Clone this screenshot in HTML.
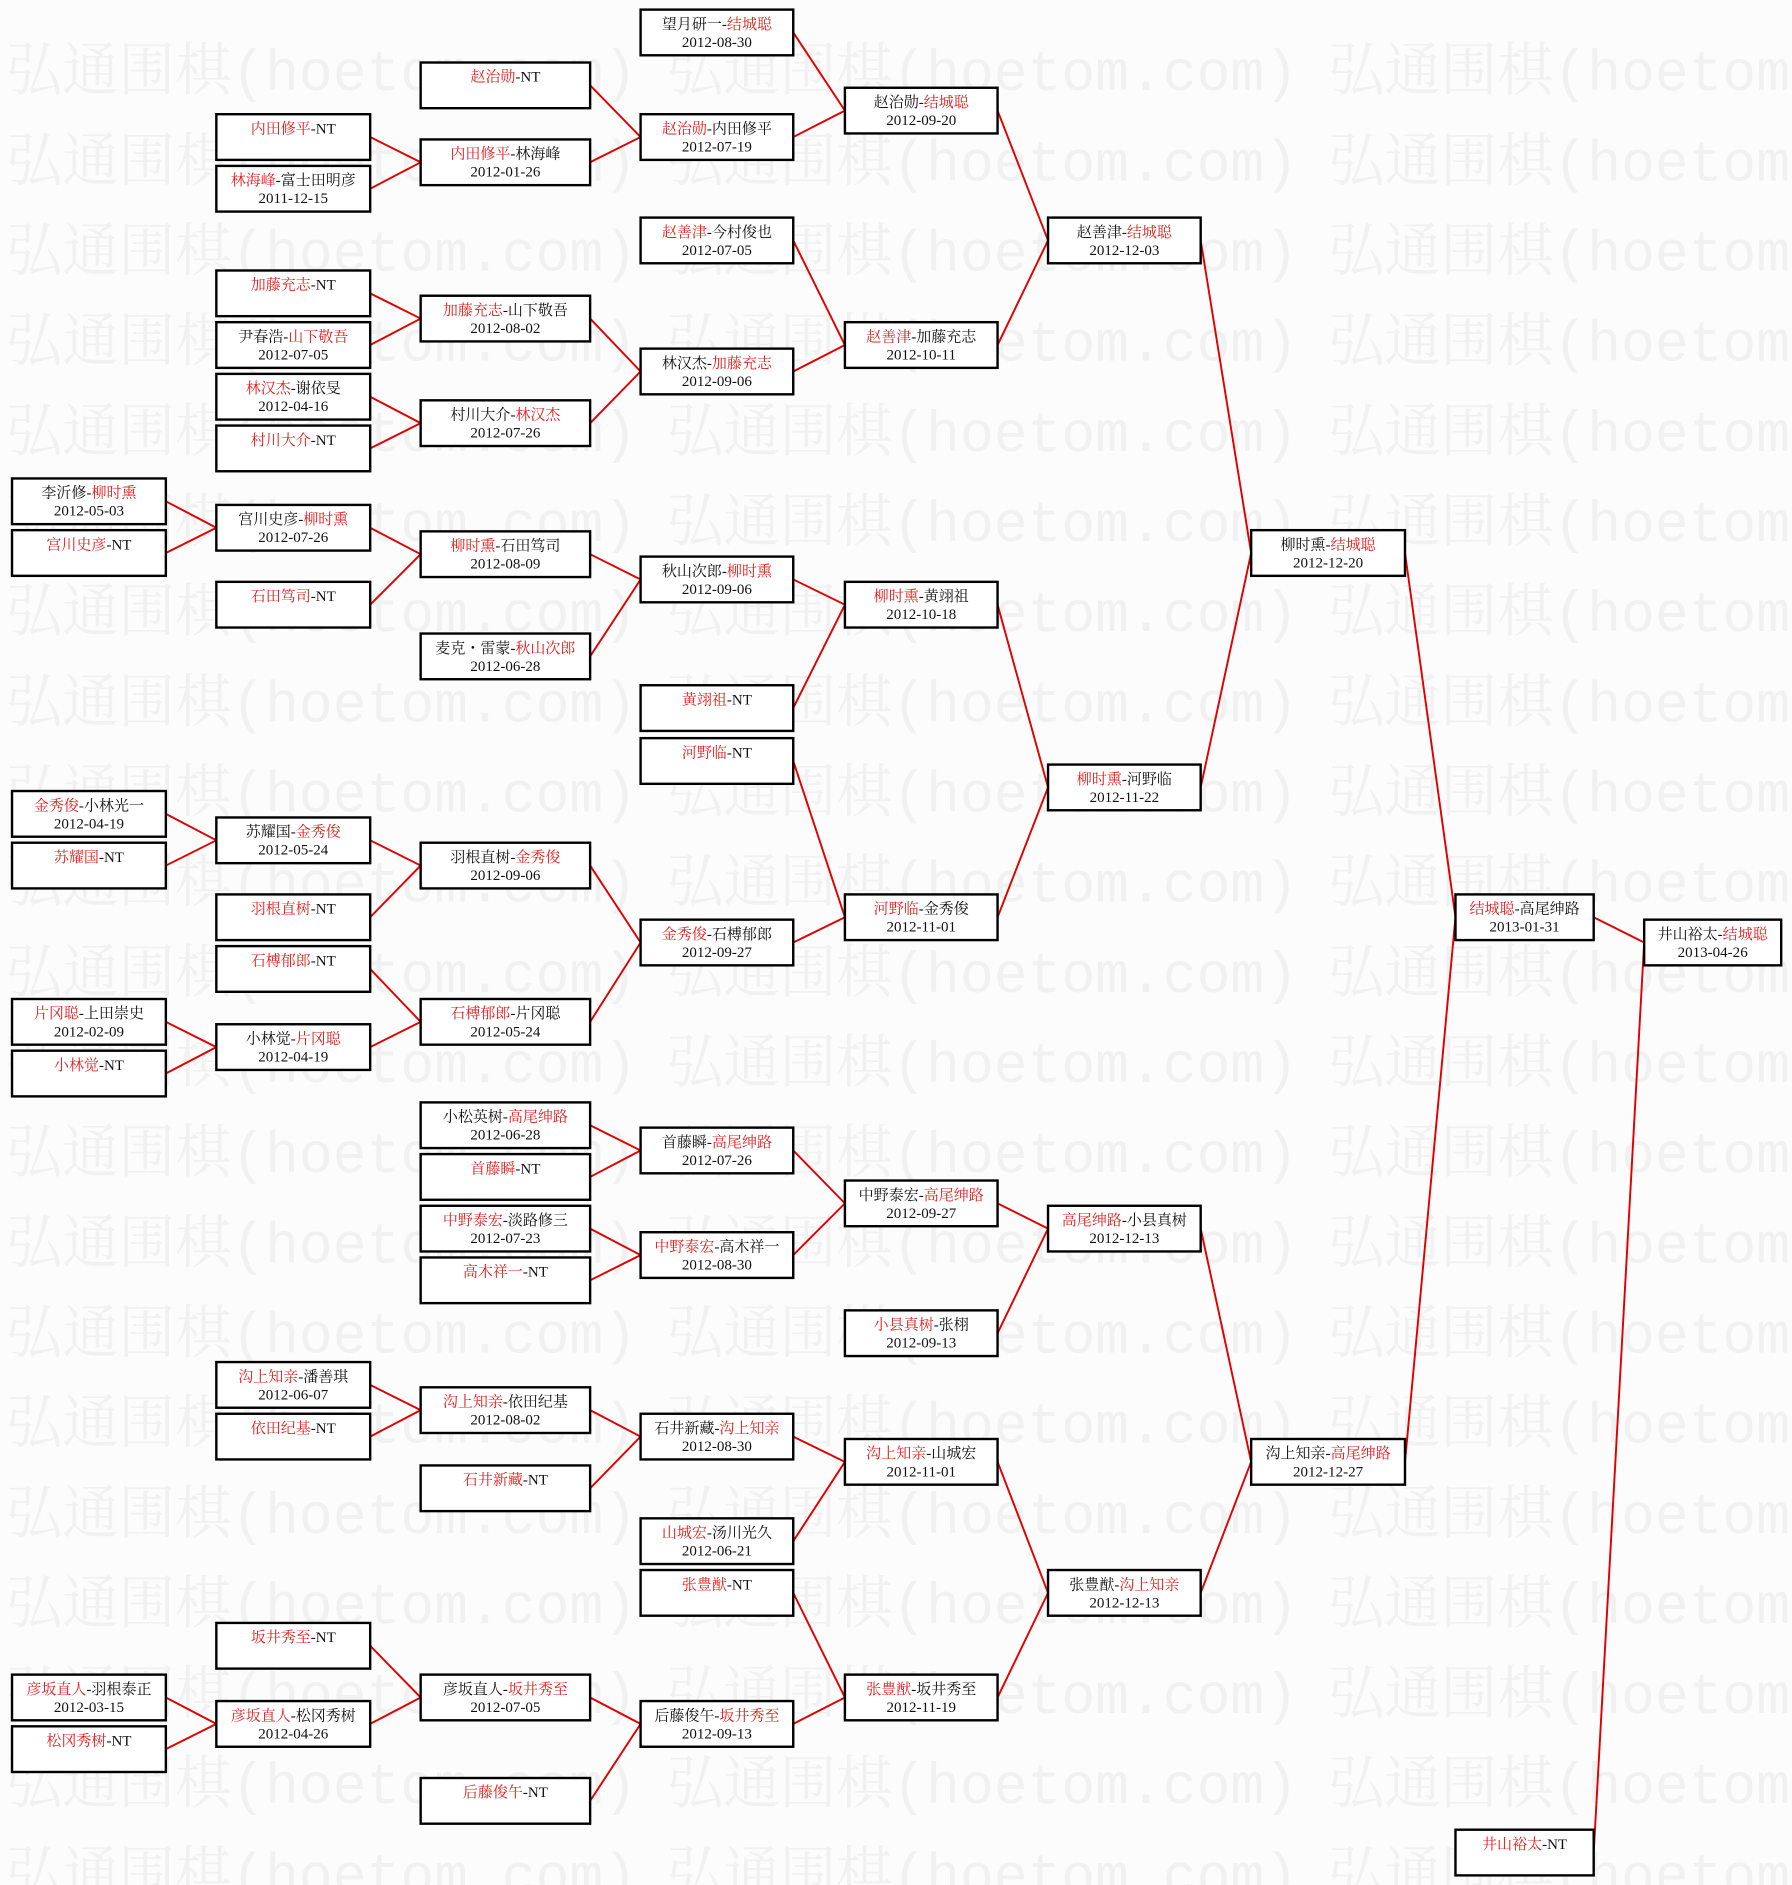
<!DOCTYPE html>
<html><head><meta charset="utf-8"><style>
html,body{margin:0;padding:0;background:#fcfcfc;}
svg{display:block}
.w{font-family:"Liberation Mono","Noto Serif CJK SC",monospace;font-size:48px;fill:#f1f1f1}
.b rect{fill:#fff;stroke:#000;stroke-width:2}
.t{font-family:"Liberation Serif","Noto Serif CJK SC",serif;font-size:12.5px;fill:#111;text-anchor:middle}
.r{fill:#e02020}
line{stroke:#e00000;stroke-width:1.6}
</style></head><body>
<svg width="1792" height="1885" viewBox="0 0 1491 1568" preserveAspectRatio="none" xmlns="http://www.w3.org/2000/svg">
<defs></defs>
<g class="w">
<text x="5" y="75" textLength="525" lengthAdjust="spacingAndGlyphs">弘通围棋(hoetom.com)</text><text x="555" y="75" textLength="525" lengthAdjust="spacingAndGlyphs">弘通围棋(hoetom.com)</text><text x="1105" y="75" textLength="525" lengthAdjust="spacingAndGlyphs">弘通围棋(hoetom.com)</text>
<text x="5" y="150" textLength="525" lengthAdjust="spacingAndGlyphs">弘通围棋(hoetom.com)</text><text x="555" y="150" textLength="525" lengthAdjust="spacingAndGlyphs">弘通围棋(hoetom.com)</text><text x="1105" y="150" textLength="525" lengthAdjust="spacingAndGlyphs">弘通围棋(hoetom.com)</text>
<text x="5" y="225" textLength="525" lengthAdjust="spacingAndGlyphs">弘通围棋(hoetom.com)</text><text x="555" y="225" textLength="525" lengthAdjust="spacingAndGlyphs">弘通围棋(hoetom.com)</text><text x="1105" y="225" textLength="525" lengthAdjust="spacingAndGlyphs">弘通围棋(hoetom.com)</text>
<text x="5" y="300" textLength="525" lengthAdjust="spacingAndGlyphs">弘通围棋(hoetom.com)</text><text x="555" y="300" textLength="525" lengthAdjust="spacingAndGlyphs">弘通围棋(hoetom.com)</text><text x="1105" y="300" textLength="525" lengthAdjust="spacingAndGlyphs">弘通围棋(hoetom.com)</text>
<text x="5" y="375" textLength="525" lengthAdjust="spacingAndGlyphs">弘通围棋(hoetom.com)</text><text x="555" y="375" textLength="525" lengthAdjust="spacingAndGlyphs">弘通围棋(hoetom.com)</text><text x="1105" y="375" textLength="525" lengthAdjust="spacingAndGlyphs">弘通围棋(hoetom.com)</text>
<text x="5" y="450" textLength="525" lengthAdjust="spacingAndGlyphs">弘通围棋(hoetom.com)</text><text x="555" y="450" textLength="525" lengthAdjust="spacingAndGlyphs">弘通围棋(hoetom.com)</text><text x="1105" y="450" textLength="525" lengthAdjust="spacingAndGlyphs">弘通围棋(hoetom.com)</text>
<text x="5" y="525" textLength="525" lengthAdjust="spacingAndGlyphs">弘通围棋(hoetom.com)</text><text x="555" y="525" textLength="525" lengthAdjust="spacingAndGlyphs">弘通围棋(hoetom.com)</text><text x="1105" y="525" textLength="525" lengthAdjust="spacingAndGlyphs">弘通围棋(hoetom.com)</text>
<text x="5" y="600" textLength="525" lengthAdjust="spacingAndGlyphs">弘通围棋(hoetom.com)</text><text x="555" y="600" textLength="525" lengthAdjust="spacingAndGlyphs">弘通围棋(hoetom.com)</text><text x="1105" y="600" textLength="525" lengthAdjust="spacingAndGlyphs">弘通围棋(hoetom.com)</text>
<text x="5" y="675" textLength="525" lengthAdjust="spacingAndGlyphs">弘通围棋(hoetom.com)</text><text x="555" y="675" textLength="525" lengthAdjust="spacingAndGlyphs">弘通围棋(hoetom.com)</text><text x="1105" y="675" textLength="525" lengthAdjust="spacingAndGlyphs">弘通围棋(hoetom.com)</text>
<text x="5" y="750" textLength="525" lengthAdjust="spacingAndGlyphs">弘通围棋(hoetom.com)</text><text x="555" y="750" textLength="525" lengthAdjust="spacingAndGlyphs">弘通围棋(hoetom.com)</text><text x="1105" y="750" textLength="525" lengthAdjust="spacingAndGlyphs">弘通围棋(hoetom.com)</text>
<text x="5" y="825" textLength="525" lengthAdjust="spacingAndGlyphs">弘通围棋(hoetom.com)</text><text x="555" y="825" textLength="525" lengthAdjust="spacingAndGlyphs">弘通围棋(hoetom.com)</text><text x="1105" y="825" textLength="525" lengthAdjust="spacingAndGlyphs">弘通围棋(hoetom.com)</text>
<text x="5" y="900" textLength="525" lengthAdjust="spacingAndGlyphs">弘通围棋(hoetom.com)</text><text x="555" y="900" textLength="525" lengthAdjust="spacingAndGlyphs">弘通围棋(hoetom.com)</text><text x="1105" y="900" textLength="525" lengthAdjust="spacingAndGlyphs">弘通围棋(hoetom.com)</text>
<text x="5" y="975" textLength="525" lengthAdjust="spacingAndGlyphs">弘通围棋(hoetom.com)</text><text x="555" y="975" textLength="525" lengthAdjust="spacingAndGlyphs">弘通围棋(hoetom.com)</text><text x="1105" y="975" textLength="525" lengthAdjust="spacingAndGlyphs">弘通围棋(hoetom.com)</text>
<text x="5" y="1050" textLength="525" lengthAdjust="spacingAndGlyphs">弘通围棋(hoetom.com)</text><text x="555" y="1050" textLength="525" lengthAdjust="spacingAndGlyphs">弘通围棋(hoetom.com)</text><text x="1105" y="1050" textLength="525" lengthAdjust="spacingAndGlyphs">弘通围棋(hoetom.com)</text>
<text x="5" y="1125" textLength="525" lengthAdjust="spacingAndGlyphs">弘通围棋(hoetom.com)</text><text x="555" y="1125" textLength="525" lengthAdjust="spacingAndGlyphs">弘通围棋(hoetom.com)</text><text x="1105" y="1125" textLength="525" lengthAdjust="spacingAndGlyphs">弘通围棋(hoetom.com)</text>
<text x="5" y="1200" textLength="525" lengthAdjust="spacingAndGlyphs">弘通围棋(hoetom.com)</text><text x="555" y="1200" textLength="525" lengthAdjust="spacingAndGlyphs">弘通围棋(hoetom.com)</text><text x="1105" y="1200" textLength="525" lengthAdjust="spacingAndGlyphs">弘通围棋(hoetom.com)</text>
<text x="5" y="1275" textLength="525" lengthAdjust="spacingAndGlyphs">弘通围棋(hoetom.com)</text><text x="555" y="1275" textLength="525" lengthAdjust="spacingAndGlyphs">弘通围棋(hoetom.com)</text><text x="1105" y="1275" textLength="525" lengthAdjust="spacingAndGlyphs">弘通围棋(hoetom.com)</text>
<text x="5" y="1350" textLength="525" lengthAdjust="spacingAndGlyphs">弘通围棋(hoetom.com)</text><text x="555" y="1350" textLength="525" lengthAdjust="spacingAndGlyphs">弘通围棋(hoetom.com)</text><text x="1105" y="1350" textLength="525" lengthAdjust="spacingAndGlyphs">弘通围棋(hoetom.com)</text>
<text x="5" y="1425" textLength="525" lengthAdjust="spacingAndGlyphs">弘通围棋(hoetom.com)</text><text x="555" y="1425" textLength="525" lengthAdjust="spacingAndGlyphs">弘通围棋(hoetom.com)</text><text x="1105" y="1425" textLength="525" lengthAdjust="spacingAndGlyphs">弘通围棋(hoetom.com)</text>
<text x="5" y="1500" textLength="525" lengthAdjust="spacingAndGlyphs">弘通围棋(hoetom.com)</text><text x="555" y="1500" textLength="525" lengthAdjust="spacingAndGlyphs">弘通围棋(hoetom.com)</text><text x="1105" y="1500" textLength="525" lengthAdjust="spacingAndGlyphs">弘通围棋(hoetom.com)</text>
<text x="5" y="1575" textLength="525" lengthAdjust="spacingAndGlyphs">弘通围棋(hoetom.com)</text><text x="555" y="1575" textLength="525" lengthAdjust="spacingAndGlyphs">弘通围棋(hoetom.com)</text><text x="1105" y="1575" textLength="525" lengthAdjust="spacingAndGlyphs">弘通围棋(hoetom.com)</text>
</g>
<g>
<line x1="138" y1="417" x2="180" y2="439"/><line x1="138" y1="460" x2="180" y2="439"/>
<line x1="138" y1="677" x2="180" y2="699"/><line x1="138" y1="720" x2="180" y2="699"/>
<line x1="138" y1="850" x2="180" y2="871"/><line x1="138" y1="893" x2="180" y2="871"/>
<line x1="138" y1="1412" x2="180" y2="1434"/><line x1="138" y1="1455" x2="180" y2="1434"/>
<line x1="308" y1="114" x2="350" y2="135"/><line x1="308" y1="157" x2="350" y2="135"/>
<line x1="308" y1="244" x2="350" y2="265"/><line x1="308" y1="287" x2="350" y2="265"/>
<line x1="308" y1="330" x2="350" y2="352"/><line x1="308" y1="373" x2="350" y2="352"/>
<line x1="308" y1="439" x2="350" y2="461"/><line x1="308" y1="503" x2="350" y2="461"/>
<line x1="308" y1="699" x2="350" y2="720"/><line x1="308" y1="763" x2="350" y2="720"/>
<line x1="308" y1="806" x2="350" y2="850"/><line x1="308" y1="871" x2="350" y2="850"/>
<line x1="308" y1="1152" x2="350" y2="1173"/><line x1="308" y1="1195" x2="350" y2="1173"/>
<line x1="308" y1="1369" x2="350" y2="1412"/><line x1="308" y1="1434" x2="350" y2="1412"/>
<line x1="491" y1="71" x2="533" y2="114"/><line x1="491" y1="135" x2="533" y2="114"/>
<line x1="491" y1="265" x2="533" y2="309"/><line x1="491" y1="352" x2="533" y2="309"/>
<line x1="491" y1="461" x2="533" y2="482"/><line x1="491" y1="546" x2="533" y2="482"/>
<line x1="491" y1="720" x2="533" y2="784"/><line x1="491" y1="850" x2="533" y2="784"/>
<line x1="491" y1="936" x2="533" y2="957"/><line x1="491" y1="979" x2="533" y2="957"/>
<line x1="491" y1="1022" x2="533" y2="1044"/><line x1="491" y1="1065" x2="533" y2="1044"/>
<line x1="491" y1="1173" x2="533" y2="1195"/><line x1="491" y1="1238" x2="533" y2="1195"/>
<line x1="491" y1="1412" x2="533" y2="1434"/><line x1="491" y1="1498" x2="533" y2="1434"/>
<line x1="660" y1="27" x2="703" y2="92"/><line x1="660" y1="114" x2="703" y2="92"/>
<line x1="660" y1="200" x2="703" y2="287"/><line x1="660" y1="309" x2="703" y2="287"/>
<line x1="660" y1="482" x2="703" y2="503"/><line x1="660" y1="589" x2="703" y2="503"/>
<line x1="660" y1="633" x2="703" y2="763"/><line x1="660" y1="784" x2="703" y2="763"/>
<line x1="660" y1="957" x2="703" y2="1001"/><line x1="660" y1="1044" x2="703" y2="1001"/>
<line x1="660" y1="1195" x2="703" y2="1216"/><line x1="660" y1="1282" x2="703" y2="1216"/>
<line x1="660" y1="1325" x2="703" y2="1412"/><line x1="660" y1="1434" x2="703" y2="1412"/>
<line x1="830" y1="92" x2="872" y2="200"/><line x1="830" y1="287" x2="872" y2="200"/>
<line x1="830" y1="503" x2="872" y2="655"/><line x1="830" y1="763" x2="872" y2="655"/>
<line x1="830" y1="1001" x2="872" y2="1022"/><line x1="830" y1="1109" x2="872" y2="1022"/>
<line x1="830" y1="1216" x2="872" y2="1325"/><line x1="830" y1="1412" x2="872" y2="1325"/>
<line x1="999" y1="200" x2="1041" y2="460"/><line x1="999" y1="655" x2="1041" y2="460"/>
<line x1="999" y1="1022" x2="1041" y2="1216"/><line x1="999" y1="1325" x2="1041" y2="1216"/>
<line x1="1169" y1="460" x2="1211" y2="763"/><line x1="1169" y1="1216" x2="1211" y2="763"/>
<line x1="1326" y1="763" x2="1368" y2="784"/><line x1="1326" y1="1541" x2="1368" y2="784"/>
</g>
<g class="b">
<rect x="10" y="398" width="128" height="38"/><rect x="10" y="441" width="128" height="38"/>
<rect x="10" y="658" width="128" height="38"/><rect x="10" y="701" width="128" height="38"/>
<rect x="10" y="831" width="128" height="38"/><rect x="10" y="874" width="128" height="38"/>
<rect x="10" y="1393" width="128" height="38"/><rect x="10" y="1436" width="128" height="38"/>
<rect x="180" y="95" width="128" height="38"/><rect x="180" y="138" width="128" height="38"/>
<rect x="180" y="225" width="128" height="38"/><rect x="180" y="268" width="128" height="38"/>
<rect x="180" y="311" width="128" height="38"/><rect x="180" y="354" width="128" height="38"/>
<rect x="180" y="420" width="128" height="38"/><rect x="180" y="484" width="128" height="38"/>
<rect x="180" y="680" width="128" height="38"/><rect x="180" y="744" width="128" height="38"/>
<rect x="180" y="787" width="128" height="38"/><rect x="180" y="852" width="128" height="38"/>
<rect x="180" y="1133" width="128" height="38"/><rect x="180" y="1176" width="128" height="38"/>
<rect x="180" y="1350" width="128" height="38"/><rect x="180" y="1415" width="128" height="38"/>
<rect x="350" y="52" width="141" height="38"/><rect x="350" y="116" width="141" height="38"/>
<rect x="350" y="246" width="141" height="38"/><rect x="350" y="333" width="141" height="38"/>
<rect x="350" y="442" width="141" height="38"/><rect x="350" y="527" width="141" height="38"/>
<rect x="350" y="701" width="141" height="38"/><rect x="350" y="831" width="141" height="38"/>
<rect x="350" y="917" width="141" height="38"/><rect x="350" y="960" width="141" height="38"/>
<rect x="350" y="1003" width="141" height="38"/><rect x="350" y="1046" width="141" height="38"/>
<rect x="350" y="1154" width="141" height="38"/><rect x="350" y="1219" width="141" height="38"/>
<rect x="350" y="1393" width="141" height="38"/><rect x="350" y="1479" width="141" height="38"/>
<rect x="533" y="8" width="127" height="38"/><rect x="533" y="95" width="127" height="38"/>
<rect x="533" y="181" width="127" height="38"/><rect x="533" y="290" width="127" height="38"/>
<rect x="533" y="463" width="127" height="38"/><rect x="533" y="570" width="127" height="38"/>
<rect x="533" y="614" width="127" height="38"/><rect x="533" y="765" width="127" height="38"/>
<rect x="533" y="938" width="127" height="38"/><rect x="533" y="1025" width="127" height="38"/>
<rect x="533" y="1176" width="127" height="38"/><rect x="533" y="1263" width="127" height="38"/>
<rect x="533" y="1306" width="127" height="38"/><rect x="533" y="1415" width="127" height="38"/>
<rect x="703" y="73" width="127" height="38"/><rect x="703" y="268" width="127" height="38"/>
<rect x="703" y="484" width="127" height="38"/><rect x="703" y="744" width="127" height="38"/>
<rect x="703" y="982" width="127" height="38"/><rect x="703" y="1090" width="127" height="38"/>
<rect x="703" y="1197" width="127" height="38"/><rect x="703" y="1393" width="127" height="38"/>
<rect x="872" y="181" width="127" height="38"/><rect x="872" y="636" width="127" height="38"/>
<rect x="872" y="1003" width="127" height="38"/><rect x="872" y="1306" width="127" height="38"/>
<rect x="1041" y="441" width="128" height="38"/><rect x="1041" y="1197" width="128" height="38"/>
<rect x="1211" y="744" width="115" height="38"/><rect x="1211" y="1522" width="115" height="38"/>
<rect x="1368" y="765" width="114" height="38"/>
</g>
<g class="t">
<text x="74" y="414">李沂修-<tspan class="r">柳时熏</tspan></text><text x="74" y="429">2012-05-03</text>
<text x="74" y="457"><tspan class="r">宫川史彦</tspan>-NT</text>
<text x="74" y="674"><tspan class="r">金秀俊</tspan>-小林光一</text><text x="74" y="689">2012-04-19</text>
<text x="74" y="717"><tspan class="r">苏耀国</tspan>-NT</text>
<text x="74" y="847"><tspan class="r">片冈聪</tspan>-上田崇史</text><text x="74" y="862">2012-02-09</text>
<text x="74" y="890"><tspan class="r">小林觉</tspan>-NT</text>
<text x="74" y="1409"><tspan class="r">彦坂直人</tspan>-羽根泰正</text><text x="74" y="1424">2012-03-15</text>
<text x="74" y="1452"><tspan class="r">松冈秀树</tspan>-NT</text>
<text x="244" y="111"><tspan class="r">内田修平</tspan>-NT</text>
<text x="244" y="154"><tspan class="r">林海峰</tspan>-富士田明彦</text><text x="244" y="169">2011-12-15</text>
<text x="244" y="241"><tspan class="r">加藤充志</tspan>-NT</text>
<text x="244" y="284">尹春浩-<tspan class="r">山下敬吾</tspan></text><text x="244" y="299">2012-07-05</text>
<text x="244" y="327"><tspan class="r">林汉杰</tspan>-谢依旻</text><text x="244" y="342">2012-04-16</text>
<text x="244" y="370"><tspan class="r">村川大介</tspan>-NT</text>
<text x="244" y="436">宫川史彦-<tspan class="r">柳时熏</tspan></text><text x="244" y="451">2012-07-26</text>
<text x="244" y="500"><tspan class="r">石田笃司</tspan>-NT</text>
<text x="244" y="696">苏耀国-<tspan class="r">金秀俊</tspan></text><text x="244" y="711">2012-05-24</text>
<text x="244" y="760"><tspan class="r">羽根直树</tspan>-NT</text>
<text x="244" y="803"><tspan class="r">石榑郁郎</tspan>-NT</text>
<text x="244" y="868">小林觉-<tspan class="r">片冈聪</tspan></text><text x="244" y="883">2012-04-19</text>
<text x="244" y="1149"><tspan class="r">沟上知亲</tspan>-潘善琪</text><text x="244" y="1164">2012-06-07</text>
<text x="244" y="1192"><tspan class="r">依田纪基</tspan>-NT</text>
<text x="244" y="1366"><tspan class="r">坂井秀至</tspan>-NT</text>
<text x="244" y="1431"><tspan class="r">彦坂直人</tspan>-松冈秀树</text><text x="244" y="1446">2012-04-26</text>
<text x="420.5" y="68"><tspan class="r">赵治勋</tspan>-NT</text>
<text x="420.5" y="132"><tspan class="r">内田修平</tspan>-林海峰</text><text x="420.5" y="147">2012-01-26</text>
<text x="420.5" y="262"><tspan class="r">加藤充志</tspan>-山下敬吾</text><text x="420.5" y="277">2012-08-02</text>
<text x="420.5" y="349">村川大介-<tspan class="r">林汉杰</tspan></text><text x="420.5" y="364">2012-07-26</text>
<text x="420.5" y="458"><tspan class="r">柳时熏</tspan>-石田笃司</text><text x="420.5" y="473">2012-08-09</text>
<text x="420.5" y="543">麦克・雷蒙-<tspan class="r">秋山次郎</tspan></text><text x="420.5" y="558">2012-06-28</text>
<text x="420.5" y="717">羽根直树-<tspan class="r">金秀俊</tspan></text><text x="420.5" y="732">2012-09-06</text>
<text x="420.5" y="847"><tspan class="r">石榑郁郎</tspan>-片冈聪</text><text x="420.5" y="862">2012-05-24</text>
<text x="420.5" y="933">小松英树-<tspan class="r">高尾绅路</tspan></text><text x="420.5" y="948">2012-06-28</text>
<text x="420.5" y="976"><tspan class="r">首藤瞬</tspan>-NT</text>
<text x="420.5" y="1019"><tspan class="r">中野泰宏</tspan>-淡路修三</text><text x="420.5" y="1034">2012-07-23</text>
<text x="420.5" y="1062"><tspan class="r">高木祥一</tspan>-NT</text>
<text x="420.5" y="1170"><tspan class="r">沟上知亲</tspan>-依田纪基</text><text x="420.5" y="1185">2012-08-02</text>
<text x="420.5" y="1235"><tspan class="r">石井新藏</tspan>-NT</text>
<text x="420.5" y="1409">彦坂直人-<tspan class="r">坂井秀至</tspan></text><text x="420.5" y="1424">2012-07-05</text>
<text x="420.5" y="1495"><tspan class="r">后藤俊午</tspan>-NT</text>
<text x="596.5" y="24">望月研一-<tspan class="r">结城聪</tspan></text><text x="596.5" y="39">2012-08-30</text>
<text x="596.5" y="111"><tspan class="r">赵治勋</tspan>-内田修平</text><text x="596.5" y="126">2012-07-19</text>
<text x="596.5" y="197"><tspan class="r">赵善津</tspan>-今村俊也</text><text x="596.5" y="212">2012-07-05</text>
<text x="596.5" y="306">林汉杰-<tspan class="r">加藤充志</tspan></text><text x="596.5" y="321">2012-09-06</text>
<text x="596.5" y="479">秋山次郎-<tspan class="r">柳时熏</tspan></text><text x="596.5" y="494">2012-09-06</text>
<text x="596.5" y="586"><tspan class="r">黄翊祖</tspan>-NT</text>
<text x="596.5" y="630"><tspan class="r">河野临</tspan>-NT</text>
<text x="596.5" y="781"><tspan class="r">金秀俊</tspan>-石榑郁郎</text><text x="596.5" y="796">2012-09-27</text>
<text x="596.5" y="954">首藤瞬-<tspan class="r">高尾绅路</tspan></text><text x="596.5" y="969">2012-07-26</text>
<text x="596.5" y="1041"><tspan class="r">中野泰宏</tspan>-高木祥一</text><text x="596.5" y="1056">2012-08-30</text>
<text x="596.5" y="1192">石井新藏-<tspan class="r">沟上知亲</tspan></text><text x="596.5" y="1207">2012-08-30</text>
<text x="596.5" y="1279"><tspan class="r">山城宏</tspan>-汤川光久</text><text x="596.5" y="1294">2012-06-21</text>
<text x="596.5" y="1322"><tspan class="r">张豊猷</tspan>-NT</text>
<text x="596.5" y="1431">后藤俊午-<tspan class="r">坂井秀至</tspan></text><text x="596.5" y="1446">2012-09-13</text>
<text x="766.5" y="89">赵治勋-<tspan class="r">结城聪</tspan></text><text x="766.5" y="104">2012-09-20</text>
<text x="766.5" y="284"><tspan class="r">赵善津</tspan>-加藤充志</text><text x="766.5" y="299">2012-10-11</text>
<text x="766.5" y="500"><tspan class="r">柳时熏</tspan>-黄翊祖</text><text x="766.5" y="515">2012-10-18</text>
<text x="766.5" y="760"><tspan class="r">河野临</tspan>-金秀俊</text><text x="766.5" y="775">2012-11-01</text>
<text x="766.5" y="998">中野泰宏-<tspan class="r">高尾绅路</tspan></text><text x="766.5" y="1013">2012-09-27</text>
<text x="766.5" y="1106"><tspan class="r">小县真树</tspan>-张栩</text><text x="766.5" y="1121">2012-09-13</text>
<text x="766.5" y="1213"><tspan class="r">沟上知亲</tspan>-山城宏</text><text x="766.5" y="1228">2012-11-01</text>
<text x="766.5" y="1409"><tspan class="r">张豊猷</tspan>-坂井秀至</text><text x="766.5" y="1424">2012-11-19</text>
<text x="935.5" y="197">赵善津-<tspan class="r">结城聪</tspan></text><text x="935.5" y="212">2012-12-03</text>
<text x="935.5" y="652"><tspan class="r">柳时熏</tspan>-河野临</text><text x="935.5" y="667">2012-11-22</text>
<text x="935.5" y="1019"><tspan class="r">高尾绅路</tspan>-小县真树</text><text x="935.5" y="1034">2012-12-13</text>
<text x="935.5" y="1322">张豊猷-<tspan class="r">沟上知亲</tspan></text><text x="935.5" y="1337">2012-12-13</text>
<text x="1105" y="457">柳时熏-<tspan class="r">结城聪</tspan></text><text x="1105" y="472">2012-12-20</text>
<text x="1105" y="1213">沟上知亲-<tspan class="r">高尾绅路</tspan></text><text x="1105" y="1228">2012-12-27</text>
<text x="1268.5" y="760"><tspan class="r">结城聪</tspan>-高尾绅路</text><text x="1268.5" y="775">2013-01-31</text>
<text x="1268.5" y="1538"><tspan class="r">井山裕太</tspan>-NT</text>
<text x="1425" y="781">井山裕太-<tspan class="r">结城聪</tspan></text><text x="1425" y="796">2013-04-26</text>
</g>
</svg>
</body></html>
